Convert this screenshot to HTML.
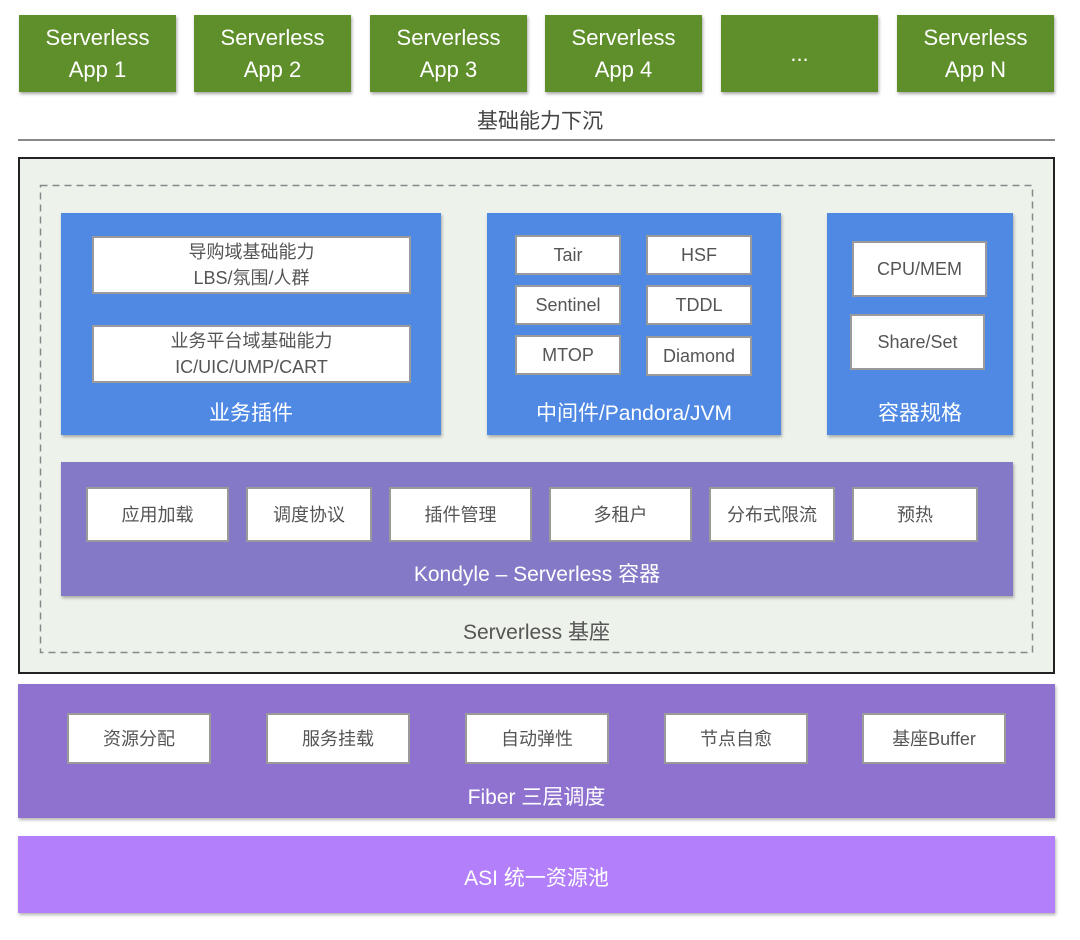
<!DOCTYPE html>
<html><head><meta charset="utf-8"><style>
body{margin:0;width:1080px;height:940px;background:#fff;position:relative;font-family:"Liberation Sans","Noto Sans CJK SC",sans-serif;overflow:hidden}
.a{position:absolute;box-sizing:border-box}
.app{background:#5e8f2a;color:#fff;font-size:22px;line-height:32px;text-align:center;box-shadow:1px 2px 3px rgba(0,0,0,.35);display:flex;align-items:center;justify-content:center;width:157px;height:77px;top:15px}
.w{background:#fff;border:2px solid #9a9a9a;color:#555;font-size:18px;display:flex;align-items:center;justify-content:center;text-align:center;line-height:26px}
.sh{box-shadow:1px 2px 3px rgba(0,0,0,.3)}
.lab{color:#fff;font-size:21px;text-align:center}
</style></head><body>
<div class="a app" style="left:19px">Serverless<br>App 1</div>
<div class="a app" style="left:194px">Serverless<br>App 2</div>
<div class="a app" style="left:370px">Serverless<br>App 3</div>
<div class="a app" style="left:545px">Serverless<br>App 4</div>
<div class="a app" style="left:721px">...</div>
<div class="a app" style="left:897px">Serverless<br>App N</div>
<div class="a" style="left:0;width:1080px;top:105px;text-align:center;font-size:21px;color:#444">基础能力下沉</div>
<div class="a" style="left:18px;width:1037px;top:139px;height:2px;background:#888"></div>

<div class="a" style="left:18px;top:157px;width:1037px;height:517px;background:#edf2ea;border:2px solid #222"></div>
<svg class="a" style="left:0;top:0" width="1080" height="940"><rect x="40.5" y="185.5" width="992" height="467" fill="none" stroke="#888" stroke-width="1.5" stroke-dasharray="7,5"/></svg>

<div class="a sh" style="left:61px;top:213px;width:380px;height:222px;background:#4f89e4"></div>
<div class="a w" style="left:92px;top:236px;width:319px;height:58px">导购域基础能力<br>LBS/氛围/人群</div>
<div class="a w" style="left:92px;top:325px;width:319px;height:58px">业务平台域基础能力<br>IC/UIC/UMP/CART</div>
<div class="a lab" style="left:61px;width:380px;top:397px">业务插件</div>

<div class="a sh" style="left:487px;top:213px;width:294px;height:222px;background:#4f89e4"></div>
<div class="a w" style="left:515px;top:235px;width:106px;height:40px">Tair</div>
<div class="a w" style="left:646px;top:235px;width:106px;height:40px">HSF</div>
<div class="a w" style="left:515px;top:285px;width:106px;height:40px">Sentinel</div>
<div class="a w" style="left:646px;top:285px;width:106px;height:40px">TDDL</div>
<div class="a w" style="left:515px;top:335px;width:106px;height:40px">MTOP</div>
<div class="a w" style="left:646px;top:336px;width:106px;height:40px">Diamond</div>
<div class="a lab" style="left:487px;width:294px;top:397px">中间件/Pandora/JVM</div>

<div class="a sh" style="left:827px;top:213px;width:186px;height:222px;background:#4f89e4"></div>
<div class="a w" style="left:852px;top:241px;width:135px;height:56px">CPU/MEM</div>
<div class="a w" style="left:850px;top:314px;width:135px;height:56px">Share/Set</div>
<div class="a lab" style="left:827px;width:186px;top:397px">容器规格</div>

<div class="a sh" style="left:61px;top:462px;width:952px;height:134px;background:#8479c7"></div>
<div class="a w" style="left:86px;top:487px;width:143px;height:55px">应用加载</div>
<div class="a w" style="left:246px;top:487px;width:126px;height:55px">调度协议</div>
<div class="a w" style="left:389px;top:487px;width:143px;height:55px">插件管理</div>
<div class="a w" style="left:549px;top:487px;width:143px;height:55px">多租户</div>
<div class="a w" style="left:709px;top:487px;width:126px;height:55px">分布式限流</div>
<div class="a w" style="left:852px;top:487px;width:126px;height:55px">预热</div>
<div class="a lab" style="left:61px;width:952px;top:558px">Kondyle – Serverless 容器</div>
<div class="a" style="left:40px;width:993px;top:616px;text-align:center;font-size:21px;color:#555">Serverless 基座</div>

<div class="a sh" style="left:18px;top:684px;width:1037px;height:134px;background:#8f71d0"></div>
<div class="a w" style="left:67px;top:713px;width:144px;height:51px">资源分配</div>
<div class="a w" style="left:266px;top:713px;width:144px;height:51px">服务挂载</div>
<div class="a w" style="left:465px;top:713px;width:144px;height:51px">自动弹性</div>
<div class="a w" style="left:664px;top:713px;width:144px;height:51px">节点自愈</div>
<div class="a w" style="left:862px;top:713px;width:144px;height:51px">基座Buffer</div>
<div class="a lab" style="left:18px;width:1037px;top:781px">Fiber 三层调度</div>

<div class="a sh" style="left:18px;top:836px;width:1037px;height:77px;background:#b37ffa"></div>
<div class="a lab" style="left:18px;width:1037px;top:862px">ASI 统一资源池</div>
</body></html>
